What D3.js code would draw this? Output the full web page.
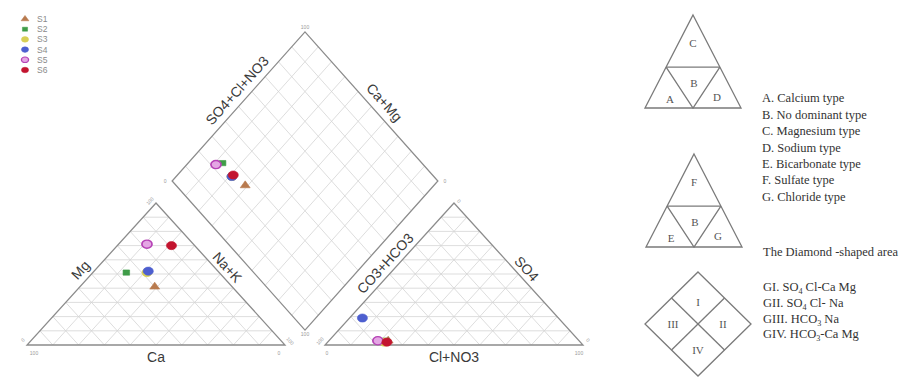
<!DOCTYPE html>
<html><head><meta charset="utf-8">
<script src="https://cdn.jsdelivr.net/npm/d3@7"></script>
<style>body{margin:0;background:#fff}svg{display:block}</style>
</head><body>
<svg id="chart" width="905" height="380"></svg>
<script>
// Piper diagram of six water samples

const samples = ["S1", "S2", "S3", "S4", "S5", "S6"];
// cations, % meq
const caPct  = [30, 36, 28, 27, 18, 9];
const mgPct  = [41, 51, 51, 52, 71, 70];
const naKPct = [29, 13, 21, 21, 11, 21];
// anions, % meq
const hco3Pct  = [74, 75, 76, 76, 78, 75];
const so4Pct   = [3, 3, 2, 19, 3, 2];
const clNo3Pct = [23, 22, 22, 5, 19, 23];

const tickEnds = ["0", "100"];
const hydroTypes = ["A. Calcium type", "B. No dominant type", "C. Magnesium type",
  "D. Sodium type", "E. Bicarbonate type", "F. Sulfate type", "G. Chloride type"];
const diamondTitle = "The Diamond -shaped area";
const diamondFields = ["GI. SO4 Cl-Ca Mg", "GII. SO4 Cl- Na", "GIII. HCO3 Na", "GIV. HCO3-Ca Mg"];

const colors = ["#b87a4e", "#3f9c48", "#d8cf55", "#4d5fcf", "#c95bc9", "#c3142f"];
const shapes = [d3.symbolTriangle, d3.symbolSquare, d3.symbolCircle, d3.symbolCircle, d3.symbolCircle, d3.symbolCircle];

const svg = d3.select("#chart");
const SANS = "'Liberation Sans', Arial, sans-serif";
const SERIF = "'Liberation Serif', 'Times New Roman', serif";

// layout in triangle units (side = 1)
const h = Math.sqrt(3) / 2, gap = 0.155, dkx = 1.03, dky = 1.05;
const x = d3.scaleLinear().domain([0, 1]).range([27, 285]);
const y = d3.scaleLinear().domain([0, h]).range([345, 203]);
const px = p => [x(p[0]), y(p[1])];
const lerp = (a, b, t) => [a[0] + (b[0] - a[0]) * t, a[1] + (b[1] - a[1]) * t];

const LT = { a: [0, 0], b: [1, 0], c: [0.5, h] };
const RT = { a: [1 + gap, 0], b: [2 + gap, 0], c: [1.5 + gap, h] };
const C = [1 + gap / 2, h * (1 + gap)];
const DB = [C[0], C[1] - dky * h], DL = [C[0] - dkx / 2, C[1]],
      DR = [C[0] + dkx / 2, C[1]], DT = [C[0], C[1] + dky * h];

const catXY = i => [naKPct[i] / 100 + mgPct[i] / 200, mgPct[i] / 100 * h];
const anXY = i => [1 + gap + clNo3Pct[i] / 100 + so4Pct[i] / 200, so4Pct[i] / 100 * h];
const diaXY = i => {
  const u = (caPct[i] + mgPct[i]) / 100, v = (so4Pct[i] + clNo3Pct[i]) / 100;
  return [DB[0] + u * (DL[0] - DB[0]) + v * (DR[0] - DB[0]),
          DB[1] + u * (DL[1] - DB[1]) + v * (DR[1] - DB[1])];
};

const line = d3.line();
const grid = svg.append("g").attr("stroke", "#d4d4d4").attr("stroke-width", 0.8).attr("fill", "none");
const frame = svg.append("g").attr("stroke", "#8c8c8c").attr("stroke-width", 1.3).attr("fill", "none");
const steps = d3.range(1, 10).map(i => i / 10);

function triangle(T) {
  steps.forEach(t => {
    grid.append("path").attr("d", line([px(lerp(T.a, T.c, t)), px(lerp(T.b, T.c, t))]));
    grid.append("path").attr("d", line([px(lerp(T.a, T.b, t)), px(lerp(T.c, T.b, t))]));
    grid.append("path").attr("d", line([px(lerp(T.b, T.a, t)), px(lerp(T.c, T.a, t))]));
  });
  frame.append("path").attr("d", line([px(T.a), px(T.b), px(T.c)]) + "Z");
}
triangle(LT);
triangle(RT);

steps.forEach(t => {
  const p = lerp(DB, DL, t), q = lerp(DB, DR, t);
  grid.append("path").attr("d", line([px(p), px([p[0] + DR[0] - DB[0], p[1] + DR[1] - DB[1]])]));
  grid.append("path").attr("d", line([px(q), px([q[0] + DL[0] - DB[0], q[1] + DL[1] - DB[1]])]));
});
frame.append("path").attr("d", line([px(DB), px(DR), px(DT), px(DL)]) + "Z");

// axis titles
const edgeAng = Math.atan2(y(0) - y(h), x(0.5) - x(0)) * 180 / Math.PI;
const diaAng = Math.atan2(y(DL[1]) - y(DT[1]), x(DT[0]) - x(DL[0])) * 180 / Math.PI;
function title(txt, p, ang, dx, dy) {
  const [cx, cy] = px(p);
  svg.append("text").text(txt)
    .attr("transform", `translate(${cx + dx},${cy + dy}) rotate(${ang})`)
    .attr("text-anchor", "middle").attr("dy", "0.35em")
    .attr("font-family", SANS).attr("font-size", 14).attr("fill", "#3a3a3a");
}
title("Mg", lerp(LT.a, LT.c, 0.5), -edgeAng, -11, -4);
title("Na+K", lerp(LT.b, LT.c, 0.54), edgeAng, 12, -1);
title("Ca", lerp(LT.a, LT.b, 0.5), 0, 0, 12);
title("CO3+HCO3", lerp(RT.a, RT.c, 0.56), -edgeAng, -12, -2);
title("SO4", lerp(RT.b, RT.c, 0.53), edgeAng, 12, -1);
title("Cl+NO3", lerp(RT.a, RT.b, 0.5), 0, 0, 12);
title("SO4+Cl+NO3", lerp(DL, DT, 0.58), -diaAng, -12, -4);
title("Ca+Mg", lerp(DR, DT, 0.5), diaAng, 13, -4);

// end-of-axis tick labels
const tickG = svg.append("g").attr("font-family", SANS).attr("font-size", 5)
  .attr("fill", "#9a9a9a").attr("text-anchor", "middle");
function tick(txt, p, ang, dx, dy) {
  const [cx, cy] = px(p);
  tickG.append("text").text(txt).attr("dy", "0.35em")
    .attr("transform", `translate(${cx + dx},${cy + dy}) rotate(${ang})`);
}
tick(tickEnds[1], LT.a, 0, 7, 8); tick(tickEnds[0], LT.b, 0, -6, 8);
tick(tickEnds[0], LT.a, -edgeAng, -4, -5); tick(tickEnds[1], LT.c, -edgeAng, -6, -2);
tick(tickEnds[1], LT.b, edgeAng, 5, -4);
tick(tickEnds[0], RT.a, 0, 2, 8); tick(tickEnds[1], RT.b, 0, -4, 8);
tick(tickEnds[1], RT.a, -edgeAng, -5, -4); tick(tickEnds[0], RT.c, edgeAng, 5, -2);
tick(tickEnds[0], RT.b, edgeAng, 5, -5);
tick(tickEnds[1], DT, 0, 0, -5); tick(tickEnds[0], DL, 0, -7, 0);
tick(tickEnds[0], DR, 0, 7, 0); tick(tickEnds[1], DB, 0, 0, 4);

// sample markers
const markG = svg.append("g");
function marker(i, [cx, cy]) {
  const sym = d3.symbol().type(shapes[i]).size(i < 2 ? 34 : 64)();
  const ring = i === 4;
  markG.append("path").attr("d", sym)
    .attr("transform", `translate(${cx},${cy}) scale(1.12,0.9)`)
    .attr("fill", ring ? "#e4a6e4" : colors[i])
    .attr("stroke", ring ? "#b542b5" : colors[i])
    .attr("stroke-width", ring ? 1.5 : 0.6);
}
samples.forEach((s, i) => {
  marker(i, px(catXY(i)));
  marker(i, px(anXY(i)));
  marker(i, px(diaXY(i)));
});

// sample legend
const leg = svg.append("g");
samples.forEach((s, i) => {
  const ly = 19 + i * 10.2;
  const sym = d3.symbol().type(shapes[i]).size(i < 2 ? 20 : 30)();
  leg.append("path").attr("d", sym).attr("transform", `translate(25,${ly}) scale(1.15,0.9)`)
    .attr("fill", i === 4 ? "#e4a6e4" : colors[i])
    .attr("stroke", i === 4 ? "#b542b5" : colors[i]).attr("stroke-width", i === 4 ? 1.2 : 0.5);
  leg.append("text").text(s).attr("x", 37).attr("y", ly).attr("dy", "0.35em")
    .attr("font-family", SANS).attr("font-size", 8.5).attr("fill", "#8a8a8a");
});

// classification key on the right
const key = svg.append("g").attr("stroke", "#7a7a7a").attr("stroke-width", 1.3).attr("fill", "none");
const keyText = svg.append("g").attr("font-family", SERIF).attr("fill", "#333");
function keyTriangle(cx, top, letters) {
  const hw = 48, ht = 93, bt = top + ht, f = 0.56;
  const yl = top + ht * f, xl = cx - hw * f, xr = cx + hw * f;
  key.append("path").attr("d", line([[cx, top], [cx + hw, bt], [cx - hw, bt]]) + "Z");
  key.append("path").attr("d", line([[xl, yl], [xr, yl]]));
  key.append("path").attr("d", line([[xl, yl], [cx, bt], [xr, yl]]));
  const pos = [[cx, top + ht * 0.3], [cx + 1, top + ht * 0.73], [cx - 23, top + ht * 0.9], [cx + 24, top + ht * 0.88]];
  letters.forEach((l, j) => keyText.append("text").text(l).attr("x", pos[j][0]).attr("y", pos[j][1])
    .attr("text-anchor", "middle").attr("dy", "0.35em").attr("font-size", 11).attr("fill", "#555"));
}
keyTriangle(693, 15, ["C", "B", "A", "D"]);
keyTriangle(694, 154, ["F", "B", "E", "G"]);

{
  const cx = 698, cy = 324, hw = 53, hh = 52;
  key.append("path").attr("d", line([[cx, cy - hh], [cx + hw, cy], [cx, cy + hh], [cx - hw, cy]]) + "Z");
  key.append("path").attr("d", line([[cx - hw / 2, cy - hh / 2], [cx + hw / 2, cy + hh / 2]]));
  key.append("path").attr("d", line([[cx + hw / 2, cy - hh / 2], [cx - hw / 2, cy + hh / 2]]));
  [["I", cx, cy - 22], ["II", cx + 25, cy], ["III", cx - 25, cy], ["IV", cx, cy + 26]].forEach(d =>
    keyText.append("text").text(d[0]).attr("x", d[1]).attr("y", d[2]).attr("dy", "0.35em")
      .attr("text-anchor", "middle").attr("font-size", 11).attr("fill", "#555"));
}

const keyFont = 12.5;
hydroTypes.forEach((t, i) => keyText.append("text").text(t)
  .attr("x", 762).attr("y", 98 + i * 16.4).attr("dy", "0.35em").attr("font-size", keyFont));
keyText.append("text").text(diamondTitle).attr("x", 763).attr("y", 252)
  .attr("dy", "0.35em").attr("font-size", keyFont);
diamondFields.forEach((t, i) => {
  const tx = keyText.append("text").attr("x", 763).attr("y", 287 + i * 15.6)
    .attr("dy", "0.35em").attr("font-size", keyFont);
  // chemical formula digits are drawn as subscripts
  let sub = false;
  t.split(/(\d)/).filter(Boolean).forEach(part => {
    const isDigit = /^\d$/.test(part);
    const ts = tx.append("tspan").text(part);
    if (isDigit) { ts.attr("font-size", keyFont * 0.65).attr("dy", 3); sub = true; }
    else if (sub) { ts.attr("dy", -3); sub = false; }
  });
});
</script>
</body></html>
